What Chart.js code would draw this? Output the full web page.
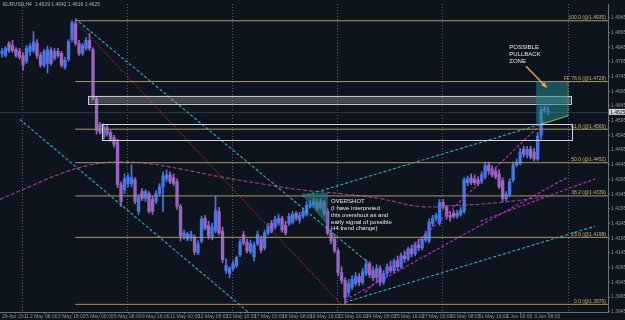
<!DOCTYPE html>
<html>
<head>
<meta charset="utf-8">
<script src="https://cdn.jsdelivr.net/npm/chart.js@4.4.1/dist/chart.umd.min.js"></script>
<style>
  html, body { margin: 0; padding: 0; background: #0e141e; }
  #wrap { width: 625px; height: 320px; }
</style>
</head>
<body>
<div id="wrap"><canvas id="chart" width="625" height="320"></canvas></div>
<script>
// EURUSD H4 candles (bar 0 = 29 Apr 08:00)
const opens = [
  1.4824,1.4817,1.4858,1.4851,1.4837,1.4831,1.4817,1.4797,1.4831,1.4834,
  1.4858,1.4817,1.4784,1.4790,1.4834,1.4807,1.4831,1.4824,1.4777,1.4804,
  1.4871,1.4925,1.4858,1.4824,1.4841,1.4868,1.4837,1.4669,1.4582,1.4538,
  1.4572,1.4555,1.4538,1.4522,1.4377,1.4360,1.4381,1.4381,1.4394,1.4286,
  1.4354,1.4330,1.4347,1.4327,1.4320,1.4347,1.4370,1.4397,1.4411,1.4401,
  1.4387,1.4303,1.4199,1.4192,1.4196,1.4199,1.4145,1.4186,1.4263,1.4239,
  1.4196,1.4219,1.4286,1.4219,1.4085,1.4075,1.4092,1.4102,1.4139,1.4206,
  1.4182,1.4149,1.4132,1.4176,1.4192,1.4162,1.4213,1.4246,1.4233,1.4246,
  1.4263,1.4239,1.4246,1.4249,1.4280,1.4256,1.4270,1.4276,1.4303,1.4307,
  1.4317,1.4300,1.4317,1.4286,1.4213,1.4192,1.4152,1.4078,1.4051,1.4011,
  1.4028,1.4041,1.4065,1.4045,1.4075,1.4108,1.4085,1.4061,1.4092,1.4045,
  1.4075,1.4098,1.4085,1.4118,1.4098,1.4135,1.4125,1.4159,1.4142,1.4172,
  1.4162,1.4189,1.4186,1.4246,1.4263,1.4246,1.4317,1.4300,1.4273,1.4280,
  1.4270,1.4276,1.4286,1.4384,1.4401,1.4397,1.4394,1.4387,1.4404,1.4444,
  1.4431,1.4424,1.4414,1.4391,1.4330,1.4344,1.4394,1.4444,1.4451,1.4498,
  1.4478,1.4498,1.4488,1.4465,1.4545,1.4629,1.4629
];
const highs = [
  1.4841,1.4848,1.4864,1.4868,1.4844,1.4841,1.4827,1.4851,1.4858,1.4898,
  1.4871,1.4827,1.4837,1.4848,1.4844,1.4841,1.4841,1.4831,1.4811,1.4871,
  1.4935,1.4932,1.4868,1.4858,1.4878,1.4891,1.4844,1.4676,1.4589,1.4585,
  1.4579,1.4562,1.4545,1.4532,1.4387,1.4414,1.4414,1.4444,1.4401,1.4344,
  1.4364,1.4360,1.4354,1.4337,1.4357,1.4381,1.4421,1.4428,1.4421,1.4414,
  1.4397,1.4310,1.4223,1.4216,1.4219,1.4206,1.4186,1.4270,1.4273,1.4253,
  1.4246,1.4337,1.4300,1.4233,1.4125,1.4098,1.4118,1.4135,1.4192,1.4219,
  1.4192,1.4189,1.4182,1.4219,1.4202,1.4223,1.4246,1.4256,1.4270,1.4276,
  1.4270,1.4253,1.4280,1.4286,1.4286,1.4283,1.4297,1.4320,1.4323,1.4330,
  1.4327,1.4330,1.4323,1.4297,1.4223,1.4206,1.4159,1.4098,1.4061,1.4055,
  1.4068,1.4078,1.4075,1.4092,1.4122,1.4115,1.4098,1.4105,1.4102,1.4085,
  1.4108,1.4118,1.4125,1.4135,1.4145,1.4152,1.4165,1.4172,1.4182,1.4192,
  1.4199,1.4219,1.4260,1.4273,1.4280,1.4327,1.4327,1.4307,1.4286,1.4290,
  1.4290,1.4300,1.4401,1.4407,1.4414,1.4411,1.4404,1.4421,1.4454,1.4454,
  1.4441,1.4434,1.4428,1.4401,1.4354,1.4397,1.4454,1.4465,1.4501,1.4508,
  1.4508,1.4508,1.4501,1.4555,1.4643,1.4646,1.4642
];
const lows = [
  1.4811,1.4811,1.4827,1.4827,1.4811,1.4804,1.4767,1.4790,1.4817,1.4827,
  1.4807,1.4777,1.4777,1.4757,1.4784,1.4801,1.4811,1.4777,1.4770,1.4797,
  1.4864,1.4851,1.4817,1.4817,1.4834,1.4834,1.4666,1.4549,1.4549,1.4532,
  1.4542,1.4525,1.4505,1.4367,1.4303,1.4347,1.4370,1.4370,1.4313,1.4276,
  1.4323,1.4320,1.4280,1.4276,1.4313,1.4340,1.4286,1.4387,1.4381,1.4374,
  1.4293,1.4186,1.4192,1.4186,1.4186,1.4139,1.4139,1.4179,1.4223,1.4192,
  1.4189,1.4213,1.4206,1.4112,1.4075,1.4061,1.4085,1.4095,1.4132,1.4172,
  1.4145,1.4142,1.4118,1.4169,1.4145,1.4155,1.4206,1.4213,1.4226,1.4239,
  1.4216,1.4206,1.4239,1.4243,1.4256,1.4246,1.4263,1.4270,1.4297,1.4300,
  1.4290,1.4293,1.4273,1.4206,1.4176,1.4145,1.4068,1.4041,1.3970,1.3997,
  1.4021,1.4034,1.4034,1.4038,1.4068,1.4061,1.4051,1.4045,1.4034,1.4038,
  1.4065,1.4078,1.4078,1.4085,1.4092,1.4112,1.4118,1.4132,1.4135,1.4152,
  1.4155,1.4182,1.4179,1.4236,1.4253,1.4239,1.4293,1.4260,1.4253,1.4263,
  1.4263,1.4270,1.4280,1.4374,1.4377,1.4377,1.4374,1.4381,1.4397,1.4417,
  1.4404,1.4397,1.4364,1.4320,1.4323,1.4337,1.4387,1.4438,1.4444,1.4471,
  1.4468,1.4465,1.4458,1.4458,1.4532,1.4622,1.4616
];
const closes = [
  1.4831,1.4841,1.4834,1.4834,1.4817,1.4811,1.4784,1.4841,1.4848,1.4864,
  1.4817,1.4784,1.4831,1.4837,1.4790,1.4831,1.4817,1.4784,1.4801,1.4864,
  1.4928,1.4858,1.4824,1.4851,1.4868,1.4841,1.4673,1.4562,1.4555,1.4575,
  1.4549,1.4532,1.4515,1.4377,1.4320,1.4397,1.4404,1.4401,1.4320,1.4333,
  1.4330,1.4354,1.4286,1.4286,1.4347,1.4370,1.4407,1.4411,1.4387,1.4381,
  1.4303,1.4202,1.4213,1.4209,1.4209,1.4149,1.4176,1.4260,1.4229,1.4202,
  1.4233,1.4290,1.4213,1.4122,1.4102,1.4092,1.4108,1.4129,1.4182,1.4179,
  1.4152,1.4176,1.4172,1.4209,1.4155,1.4213,1.4236,1.4219,1.4260,1.4263,
  1.4223,1.4213,1.4270,1.4276,1.4263,1.4273,1.4286,1.4307,1.4313,1.4320,
  1.4297,1.4320,1.4280,1.4213,1.4186,1.4152,1.4078,1.4051,1.3994,1.4041,
  1.4055,1.4065,1.4045,1.4081,1.4108,1.4071,1.4061,1.4092,1.4045,1.4075,
  1.4098,1.4085,1.4118,1.4098,1.4135,1.4125,1.4159,1.4142,1.4172,1.4162,
  1.4192,1.4209,1.4249,1.4263,1.4273,1.4317,1.4300,1.4270,1.4266,1.4270,
  1.4280,1.4290,1.4394,1.4397,1.4384,1.4384,1.4381,1.4411,1.4441,1.4424,
  1.4411,1.4404,1.4370,1.4330,1.4344,1.4387,1.4444,1.4454,1.4488,1.4481,
  1.4498,1.4471,1.4465,1.4542,1.4633,1.4639,1.4625
];

// time axis
const xTickBars = [0,8,16,24,32,40,48,56,64,72,80,88,96,104,112,120,128,136,144,152];
const xTickLabels = ['29 Apr 2011','2 May 08:00','3 May 16:00','5 May 00:00','6 May 08:00',
  '9 May 16:00','11 May 00:00','12 May 08:00','13 May 16:00','17 May 00:00','18 May 08:00',
  '19 May 16:00','23 May 00:00','24 May 08:00','25 May 16:00','27 May 00:00','30 May 08:00',
  '31 May 16:00','2 Jun 00:00','3 Jun 08:00'];
const weekSeparators = [5.7, 35.7, 65.7, 95.7, 125.7, 161.7];

// price axis
const priceTicks = [1.3945,1.3995,1.4045,1.4095,1.4145,1.4195,1.4245,1.4295,1.4345,1.4395,
  1.4445,1.4495,1.4545,1.4595,1.4645,1.4695,1.4745,1.4795,1.4845,1.4895,1.4945];

// fibo retracement drawn from the 1.4935 high
const fibStartBar = 20.9;
const fibLevels = [1.4935, 1.4728, 1.4566, 1.4452, 1.4339, 1.4198, 1.3970];
const fibLabels = ['100.0 (@1.4935)','FF 78.6 (@1.4728)','61.8 (@1.4566)','50.0 (@1.4452)',
  '38.2 (@1.4339)','23.6 (@1.4198)','0.0 (@1.3970)'];

// trend lines [bar, price]
const downChannelUpper = [[20.9, 1.4942], [104.6, 1.4112]];
const downChannelLower = [[5.1, 1.4599], [70.3, 1.3944]];
const redDotted = [[21.7, 1.4925], [97.1, 1.3967]];
const upChannelLower = [[98, 1.3977], [169.4, 1.4236]];
const upChannelUpper = [[85.7, 1.4337], [153.7, 1.4582]];
const zoneEdge = [[153.7, 1.4582], [161.7, 1.4612]];
const magentaA = [[103.7, 1.4011], [155.1, 1.4596]];
const magentaB = [[98, 1.3984], [161.7, 1.4404]];
const magentaC = [[136.6, 1.4253], [169.4, 1.4397]];

// slow moving average (dashed curve)
const maBars = [-0.6, 8, 16.6, 25.1, 33.7, 42.3, 50.9, 62.3, 73.7, 85.1, 96.6, 108, 119.4, 130.9, 142.3, 154.3];
const maValues = [1.4327, 1.4371, 1.4414, 1.4444, 1.4455, 1.4448, 1.4431, 1.4404, 1.4381, 1.4360,
  1.4347, 1.4330, 1.4303, 1.4307, 1.4317, 1.4334];

// boxes and zones
const grayBox = {from: 24.6, to: 162.6, top: 1.4680, bottom: 1.4653};
const whiteBox = {from: 28.6, to: 162.9, top: 1.4582, bottom: 1.4528};
const pullbackZone = [[152.6, 1.4727], [161.7, 1.4727], [161.7, 1.4612], [153.7, 1.4582], [152.6, 1.4582]];
const overshotZone = [[85.4, 1.4347], [93.1, 1.4350], [93.1, 1.4236]];

const BULL = '#4677e6';
const BEAR = '#9b63c2';
const CYAN = '#24b4b8';
const MAGENTA = '#c42ad0';
const FONT = "'Liberation Sans', Arial, sans-serif";

const bars = opens.map((o, i) => i);
const candleColors = opens.map((o, i) => closes[i] >= o ? BULL : BEAR);

function seg(pts) {
  return pts.map(p => ({x: p[0], y: p[1]}));
}
function lineSet(pts, color, dash, width) {
  return {
    type: 'line', data: seg(pts), borderColor: color, borderWidth: width || 1,
    borderDash: dash, pointRadius: 0, fill: false, tension: 0, order: 0
  };
}

const datasets = [];
fibLevels.forEach((lv, k) => {
  datasets.push(lineSet([[fibStartBar, lv], [180, lv]], k === fibLevels.length - 1 ? '#c08a34' : '#a8976a', [], 1));
});
datasets.push(lineSet(downChannelUpper, CYAN, [3, 2], 1.1));
datasets.push(lineSet(downChannelLower, CYAN, [3, 2], 1.1));
datasets.push(lineSet(redDotted, '#b8243a', [1, 1.5], 1.1));
datasets.push(lineSet(upChannelLower, CYAN, [3, 2], 1.1));
datasets.push(lineSet(upChannelUpper, CYAN, [3, 2], 1.1));
datasets.push(lineSet(zoneEdge, '#a4c844', [], 1.1));
datasets.push(lineSet(magentaA, MAGENTA, [3, 2], 1.1));
datasets.push(lineSet(magentaB, MAGENTA, [3, 2], 1.1));
datasets.push(lineSet(magentaC, MAGENTA, [3, 2], 1.1));
datasets.push(Object.assign(lineSet(maBars.map((b, i) => [b, maValues[i]]), '#a2438f', [4, 2], 1.1), {tension: 0.4}));

// wicks and bodies
datasets.push({
  type: 'bar', data: bars.map(i => ({x: i, y: [lows[i], highs[i]]})),
  backgroundColor: candleColors, barThickness: 1, grouped: false, order: 2
});
datasets.push({
  type: 'bar', data: bars.map(i => ({x: i, y: [opens[i], closes[i]]})),
  backgroundColor: candleColors, barThickness: 2.7, minBarLength: 1, grouped: false, order: 1
});

function P(chart, b, p) {
  return [chart.scales.x.getPixelForValue(b), chart.scales.y.getPixelForValue(p)];
}
function poly(ctx, chart, pts) {
  ctx.beginPath();
  pts.forEach((q, k) => {
    const [px, py] = P(chart, q[0], q[1]);
    if (k === 0) ctx.moveTo(px, py); else ctx.lineTo(px, py);
  });
  ctx.closePath();
}

const overlay = {
  id: 'overlay',
  beforeDraw(chart) {
    const ctx = chart.ctx;
    ctx.save();
    ctx.fillStyle = '#0e141e';
    ctx.fillRect(0, 0, chart.width, chart.height);
    ctx.restore();
  },
  beforeDatasetsDraw(chart) {
    const {ctx, chartArea: a} = chart;
    ctx.save();
    ctx.strokeStyle = '#5a616f';
    ctx.lineWidth = 1;
    ctx.setLineDash([1, 2]);
    weekSeparators.forEach(b => {
      const px = Math.round(chart.scales.x.getPixelForValue(b)) + 0.5;
      ctx.beginPath(); ctx.moveTo(px, a.top); ctx.lineTo(px, a.bottom); ctx.stroke();
    });
    ctx.setLineDash([]);
    ctx.strokeStyle = '#28344c';
    const py = Math.round(chart.scales.y.getPixelForValue(closes[closes.length - 1])) + 0.5;
    ctx.beginPath(); ctx.moveTo(a.left, py); ctx.lineTo(a.right, py); ctx.stroke();
    ctx.restore();
  },
  afterDatasetsDraw(chart) {
    const ctx = chart.ctx;
    ctx.save();
    // gray box
    let [x1, y1] = P(chart, grayBox.from, grayBox.top);
    let [x2, y2] = P(chart, grayBox.to, grayBox.bottom);
    ctx.fillStyle = 'rgba(200,200,206,0.3)';
    ctx.fillRect(x1, y1, x2 - x1, y2 - y1);
    ctx.strokeStyle = '#c4c5ca';
    ctx.lineWidth = 1;
    ctx.strokeRect(Math.round(x1) + 0.5, Math.round(y1) + 0.5, Math.round(x2 - x1), Math.round(y2 - y1));
    // white outline box
    [x1, y1] = P(chart, whiteBox.from, whiteBox.top);
    [x2, y2] = P(chart, whiteBox.to, whiteBox.bottom);
    ctx.strokeStyle = '#d6d6da';
    ctx.strokeRect(Math.round(x1) + 0.5, Math.round(y1) + 0.5, Math.round(x2 - x1), Math.round(y2 - y1));
    // teal zones
    ctx.fillStyle = 'rgba(34,135,140,0.55)';
    poly(ctx, chart, pullbackZone);
    ctx.fill();
    poly(ctx, chart, overshotZone);
    ctx.fill();
    // dotted right edge of pullback zone
    ctx.strokeStyle = '#a4c844';
    ctx.setLineDash([1, 1]);
    const [ex, ey1] = P(chart, pullbackZone[1][0], pullbackZone[1][1]);
    const [, ey2] = P(chart, pullbackZone[2][0], pullbackZone[2][1]);
    ctx.beginPath(); ctx.moveTo(ex, ey1); ctx.lineTo(ex, ey2); ctx.stroke();
    ctx.setLineDash([]);
    ctx.restore();
  },
  afterDraw(chart) {
    const {ctx, chartArea: a} = chart;
    ctx.save();
    // fibo labels
    ctx.font = '5px ' + FONT;
    ctx.fillStyle = '#c9b46c';
    ctx.textAlign = 'right';
    ctx.textBaseline = 'bottom';
    fibLevels.forEach((lv, k) => {
      const py = chart.scales.y.getPixelForValue(lv);
      ctx.fillText(fibLabels[k], a.right - 2, py - 0.5);
    });
    // title
    ctx.textAlign = 'left';
    ctx.textBaseline = 'middle';
    ctx.fillStyle = '#aab0ba';
    ctx.fillText('EURUSD,H4  1.4629 1.4642 1.4616 1.4625', 3, 4.5);
    // notes
    ctx.font = '6px ' + FONT;
    ctx.fillStyle = '#e8e8ec';
    let [tx, ty] = P(chart, 144.9, 1.4844);
    ['POSSIBLE', 'PULLBACK', 'ZONE'].forEach((s, k) => ctx.fillText(s, tx, ty + k * 6.7));
    [tx, ty] = P(chart, 94, 1.4320);
    ['OVERSHOT', '(I have interpreted', 'this overshoot as and', 'early signal of possible', 'H4 trend change)']
      .forEach((s, k) => ctx.fillText(s, tx, ty + k * 6.8));
    // arrow
    const [ax1, ay1] = P(chart, 149.7, 1.4780);
    const [ax2, ay2] = P(chart, 155.4, 1.4710);
    ctx.strokeStyle = '#f0aa55';
    ctx.fillStyle = '#f0aa55';
    ctx.lineWidth = 1.4;
    ctx.beginPath(); ctx.moveTo(ax1, ay1); ctx.lineTo(ax2, ay2); ctx.stroke();
    const ang = Math.atan2(ay2 - ay1, ax2 - ax1);
    ctx.beginPath();
    ctx.moveTo(ax2 + 1.5 * Math.cos(ang), ay2 + 1.5 * Math.sin(ang));
    ctx.lineTo(ax2 - 5 * Math.cos(ang - 0.45), ay2 - 5 * Math.sin(ang - 0.45));
    ctx.lineTo(ax2 - 5 * Math.cos(ang + 0.45), ay2 - 5 * Math.sin(ang + 0.45));
    ctx.closePath(); ctx.fill();
    // bid price box on the axis
    const last = closes[closes.length - 1];
    const by = chart.scales.y.getPixelForValue(last);
    ctx.fillStyle = '#d4d6da';
    ctx.fillRect(a.right + 1, by - 3, 16, 6);
    ctx.fillStyle = '#10151e';
    ctx.font = '5px ' + FONT;
    ctx.textAlign = 'left';
    ctx.fillText(last.toFixed(4), a.right + 2, by + 0.3);
    ctx.restore();
  }
};

Chart.defaults.font.family = FONT;

new Chart(document.getElementById('chart').getContext('2d'), {
  type: 'bar',
  data: { datasets: datasets },
  options: {
    responsive: false,
    animation: false,
    layout: { padding: 0, autoPadding: false },
    plugins: { legend: { display: false }, tooltip: { enabled: false } },
    scales: {
      x: {
        type: 'linear', min: -0.57, max: 173.1, offset: false,
        afterBuildTicks: axis => { axis.ticks = xTickBars.map(v => ({value: v})); },
        afterFit: scale => { scale.height = 8; },
        ticks: {
          autoSkip: false, maxRotation: 0, align: 'start', padding: 0,
          color: '#8d929c', font: { size: 5 },
          callback: v => xTickLabels[xTickBars.indexOf(v)]
        },
        grid: { drawOnChartArea: false, tickLength: 2, color: '#6a707c' },
        border: { color: '#6a707c' }
      },
      y: {
        type: 'linear', position: 'right', min: 1.3944, max: 1.4992,
        afterBuildTicks: axis => { axis.ticks = priceTicks.map(v => ({value: v})); },
        afterFit: scale => { scale.width = 17; },
        ticks: {
          padding: 1, color: '#8d929c', font: { size: 5 },
          callback: v => v.toFixed(4)
        },
        grid: { drawOnChartArea: false, tickLength: 2, color: '#6a707c' },
        border: { color: '#6a707c' }
      }
    }
  },
  plugins: [overlay]
});
</script>
</body>
</html>
